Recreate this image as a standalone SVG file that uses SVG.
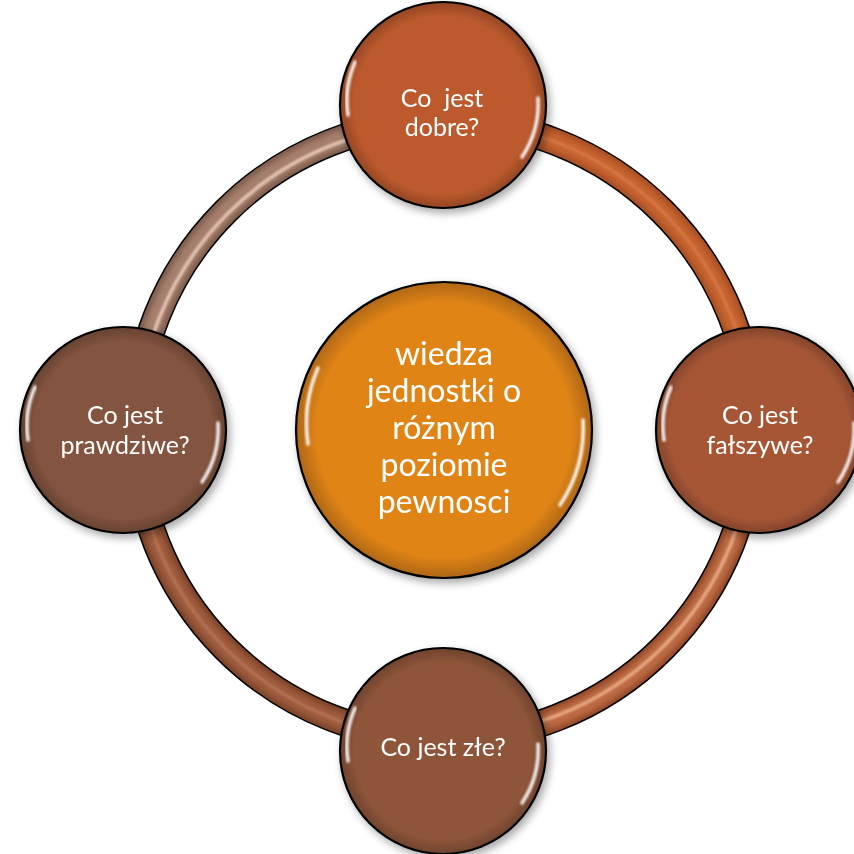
<svg xmlns="http://www.w3.org/2000/svg" width="854" height="854" viewBox="0 0 854 854">
<style>
  .lbl { font-family: Lato, "Liberation Sans", sans-serif; fill: #ffffff; text-anchor: middle; }
  .small { font-size: 25px; }
  .big { font-size: 32px; }
  .rim { fill: none; stroke: #000; stroke-width: 2.2; }
  .hl { fill: none; stroke: #ffffff; stroke-width: 3.5; stroke-linecap: round; filter: url(#blur2); opacity: 0.9; }
  .tubedark { fill: none; stroke-width: 25; }
  .tube { fill: none; stroke-width: 17; filter: url(#blur3); }
  .tubehl { fill: none; stroke-width: 3.5; filter: url(#blur2); opacity: 0.85; }
</style>
<defs>
  <filter id="blur2" x="-20%" y="-20%" width="140%" height="140%"><feGaussianBlur stdDeviation="1.3"/></filter>
  <filter id="blur3" x="-20%" y="-20%" width="140%" height="140%"><feGaussianBlur stdDeviation="2.5"/></filter>
  <filter id="shadow" x="-20%" y="-20%" width="140%" height="140%">
    <feGaussianBlur in="SourceAlpha" stdDeviation="4"/>
    <feOffset dx="3" dy="4" result="b"/>
    <feComponentTransfer><feFuncA type="linear" slope="0.35"/></feComponentTransfer>
    <feMerge><feMergeNode/><feMergeNode in="SourceGraphic"/></feMerge>
  </filter>
  <radialGradient id="edge" cx="0.5" cy="0.5" r="0.5">
    <stop offset="0.86" stop-color="#000" stop-opacity="0"/>
    <stop offset="1" stop-color="#000" stop-opacity="0.22"/>
  </radialGradient>
</defs>

<g id="connectors">
  <circle cx="444" cy="430" r="309" fill="none" stroke="#000" stroke-width="28"/>
  <path class="tubedark" stroke="#A84F26" d="M444,121 A309,309 0 0 1 753,430"/>
  <path class="tubedark" stroke="#94492A" d="M753,430 A309,309 0 0 1 444,739"/>
  <path class="tubedark" stroke="#7C4329" d="M444,739 A309,309 0 0 1 135,430"/>
  <path class="tubedark" stroke="#7E5C4C" d="M135,430 A309,309 0 0 1 444,121"/>
  <path class="tube" stroke="#C6632F" d="M444,121 A309,309 0 0 1 753,430"/>
  <path class="tube" stroke="#BC6A42" d="M753,430 A309,309 0 0 1 444,739"/>
  <path class="tube" stroke="#9E5B3C" d="M444,739 A309,309 0 0 1 135,430"/>
  <path class="tube" stroke="#A57F6C" d="M135,430 A309,309 0 0 1 444,121"/>
  <path class="tubehl" stroke="#D87A4A" d="M444,121 A309,309 0 0 1 753,430"/>
  <path class="tubehl" stroke="#F0B48E" d="M753,430 A306,306 0 0 1 444,736"/>
  <path class="tubehl" stroke="#B87458" d="M444,739 A309,309 0 0 1 135,430"/>
  <path class="tubehl" stroke="#F2D2C2" d="M138,430 A306,306 0 0 1 444,124"/>
</g>

<g id="node-top" filter="url(#shadow)">
  <circle cx="443" cy="105" r="103" fill="#BC5A2E"/>
  <circle cx="443" cy="105" r="103" fill="url(#edge)"/>
  <circle cx="443" cy="105" r="103" class="rim"/>
  <path class="hl" d="M355,62 A96,96 0 0 0 348,115"/>
  <path class="hl" d="M538,98 A96,96 0 0 1 522,157"/>
  <text class="lbl small" x="442" y="107" xml:space="preserve">Co  jest</text>
  <text class="lbl small" x="442" y="136">dobre?</text>
</g>

<g id="node-right" filter="url(#shadow)">
  <circle cx="759" cy="430" r="103" fill="#A75736"/>
  <circle cx="759" cy="430" r="103" fill="url(#edge)"/>
  <circle cx="759" cy="430" r="103" class="rim"/>
  <path class="hl" d="M671,387 A96,96 0 0 0 664,440"/>
  <path class="hl" d="M854,423 A96,96 0 0 1 838,482"/>
  <text class="lbl small" x="760" y="424">Co jest</text>
  <text class="lbl small" x="760" y="454">fałszywe?</text>
</g>

<g id="node-bottom" filter="url(#shadow)">
  <circle cx="443" cy="751" r="103" fill="#8E553A"/>
  <circle cx="443" cy="751" r="103" fill="url(#edge)"/>
  <circle cx="443" cy="751" r="103" class="rim"/>
  <path class="hl" d="M355,708 A96,96 0 0 0 348,761"/>
  <path class="hl" d="M538,744 A96,96 0 0 1 522,803"/>
  <text class="lbl small" x="443" y="756">Co jest złe?</text>
</g>

<g id="node-left" filter="url(#shadow)">
  <circle cx="123" cy="430" r="103" fill="#83543F"/>
  <circle cx="123" cy="430" r="103" fill="url(#edge)"/>
  <circle cx="123" cy="430" r="103" class="rim"/>
  <path class="hl" d="M35,387 A96,96 0 0 0 28,440"/>
  <path class="hl" d="M218,423 A96,96 0 0 1 202,482"/>
  <text class="lbl small" x="125" y="424">Co jest</text>
  <text class="lbl small" x="125" y="454">prawdziwe?</text>
</g>

<g id="node-center" filter="url(#shadow)">
  <circle cx="444" cy="430" r="148" fill="#E08418"/>
  <circle cx="444" cy="430" r="148" fill="url(#edge)"/>
  <circle cx="444" cy="430" r="148" class="rim"/>
  <path class="hl" d="M318,368 A139,139 0 0 0 308,444"/>
  <path class="hl" d="M583,420 A139,139 0 0 1 560,505"/>
  <text class="lbl big" x="444" y="365">wiedza</text>
  <text class="lbl big" x="444" y="402">jednostki o</text>
  <text class="lbl big" x="444" y="439">różnym</text>
  <text class="lbl big" x="444" y="476">poziomie</text>
  <text class="lbl big" x="444" y="513">pewnosci</text>
</g>
</svg>
